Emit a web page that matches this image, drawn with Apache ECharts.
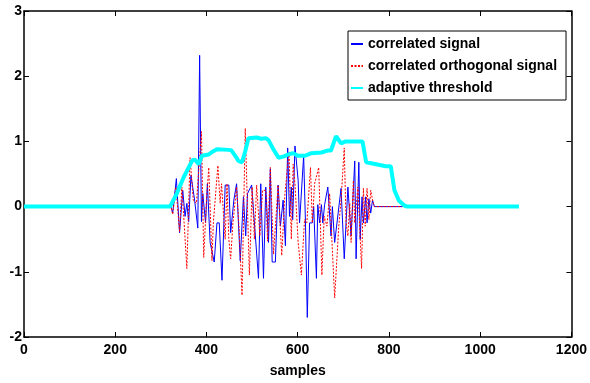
<!DOCTYPE html>
<html>
<head>
<meta charset="utf-8">
<script src="https://cdn.jsdelivr.net/npm/echarts@6/dist/echarts.min.js"></script>
<style>
  html, body { margin: 0; padding: 0; background: #fff; }
  #chart { width: 590px; height: 383px; }
</style>
</head>
<body>
<div id="chart"></div>
<script>
// sample positions and values
const sigX = [310, 322, 326, 334, 341, 348, 353, 357, 361, 366, 374, 381, 385, 389, 392, 398, 402, 408, 412, 417, 423, 428, 434, 441, 449, 453, 460, 466, 474, 481, 486, 490, 499, 503, 514, 519, 525, 530, 536, 540, 544, 551, 557, 562, 568, 573, 578, 582, 586, 589, 594, 601, 604, 608, 613, 617, 621, 626, 632, 635, 641, 644, 648, 652, 655, 659, 666, 673, 676, 681, 685, 695, 702, 710, 717, 725, 728, 734, 737, 741, 744, 749, 752, 756, 760, 764, 768, 830];
const sigY = [0, 0, -0.1, 0.43, -0.4, 0.25, -0.15, 0.05, -0.23, 0.48, 0.1, -0.33, 2.32, -0.23, 0.2, -0.25, 0.35, -0.55, -0.55, -0.85, -0.25, -0.25, -1.13, 0.33, 0.33, -0.4, 0.1, 0.35, -0.83, 0.15, -0.45, 0.2, 0.33, 0.33, -1.1, 0.35, -1.1, 0.3, -0.55, 0.58, -0.85, -0.85, 0.33, -0.3, 0.1, -0.6, 0.9, -0.15, 0.3, -0.2, 0.93, 0.4, -0.25, -0.25, 0.78, -0.25, -1.7, -0.25, -0.25, 0, -1.1, 0.03, -0.25, 0.03, -0.25, 0.03, 0.3, -0.45, 0, -0.55, -0.55, 0.28, -0.8, 0.3, -0.45, 0.7, -0.8, 0.68, -0.5, 0.15, -0.25, 0.15, -0.25, 0.12, -0.1, 0.1, 0, 0];

const orthX = [310, 322, 326, 333, 341, 346, 351, 357, 364, 371, 378, 389, 394, 400, 405, 412, 415, 425, 430, 433, 441, 445, 449, 453, 458, 466, 472, 478, 485, 494, 500, 505, 510, 517, 523, 530, 534, 540, 547, 557, 565, 572, 581, 586, 590, 594, 601, 608, 615, 620, 628, 632, 637, 646, 653, 658, 664, 670, 681, 690, 695, 702, 706, 710, 714, 717, 722, 725, 732, 740, 744, 748, 752, 756, 760, 764, 768, 830];
const orthY = [0, 0, -0.12, 0.3, -0.38, 0.3, -0.25, -0.95, 0.75, 0.1, 0.05, 1.15, -0.78, 0.1, 0.6, -0.83, -0.25, 0.63, 0.05, 0.35, -0.5, 0.35, -0.5, -0.8, -0.25, 0.3, -0.4, -1.36, 1.2, -1.05, 0.3, -0.5, 0.33, -0.45, 0.25, 0.25, -0.53, 0.6, -0.73, 0.33, -0.75, 0.2, 0.85, -0.5, 0.65, 0.35, -0.55, -1.05, -0.2, -0.25, 0.6, -0.25, 0.35, 0.6, -1.05, -0.15, -0.3, 0.2, -1.4, -0.3, 0.1, 0.9, -0.25, -0.45, 0.05, -0.55, 0.4, -0.25, 0.3, -0.95, 0.28, -0.3, 0.28, -0.2, 0.25, 0.1, 0, 0];

const thrX = [0, 320, 335, 350, 369, 375, 383, 390, 405, 415, 423, 449, 455, 465, 470, 478, 485, 492, 510, 520, 530, 536, 545, 558, 570, 579, 590, 600, 616, 630, 652, 665, 673, 684, 695, 705, 724, 742, 750, 764, 793, 804, 812, 822, 833, 840, 1085];
const thrY = [0, 0, 0.2, 0.45, 0.71, 0.72, 0.65, 0.78, 0.8, 0.85, 0.88, 0.87, 0.86, 0.76, 0.7, 0.68, 0.85, 1.05, 1.06, 1.04, 1.05, 1.02, 0.9, 0.75, 0.77, 0.8, 0.82, 0.78, 0.78, 0.82, 0.83, 0.86, 0.86, 1.08, 0.97, 1.0, 1.0, 1.0, 0.68, 0.66, 0.62, 0.62, 0.25, 0.09, 0.02, 0, 0];

const zip = (xs, ys) => xs.map((x, i) => [x, ys[i]]);

const chart = echarts.init(document.getElementById('chart'));
const font = 'Liberation Sans, Arial, sans-serif';
const axisBase = {
  axisLine: { show: true, onZero: false, lineStyle: { color: '#000', width: 1.5 } },
  axisTick: { show: true, inside: true, length: 5, lineStyle: { color: '#000' } },
  splitLine: { show: false }
};
const labelStyle = { fontFamily: font, fontWeight: 'bold', fontSize: 14, color: '#000' };

chart.setOption({
  animation: false,
  backgroundColor: '#fff',
  grid: { left: 24, right: 14, top: 11, bottom: 40 },
  legend: {
    orient: 'vertical',
    left: 348,
    top: 31,
    padding: [6, 9, 5, 2],
    itemGap: 8,
    itemWidth: 12,
    itemHeight: 14,
    backgroundColor: '#fff',
    borderColor: '#000',
    borderWidth: 1,
    itemStyle: { opacity: 0 },
    textStyle: labelStyle,
    data: ['correlated signal', 'correlated orthogonal signal', 'adaptive threshold']
  },
  xAxis: [
    Object.assign({}, axisBase, {
      type: 'value', min: 0, max: 1200, interval: 200, position: 'bottom',
      name: 'samples', nameLocation: 'middle', nameGap: 27,
      nameTextStyle: labelStyle,
      axisLabel: Object.assign({ margin: 6, formatter: v => String(v) }, labelStyle)
    }),
    Object.assign({}, axisBase, {
      type: 'value', min: 0, max: 1200, interval: 200, position: 'top',
      axisLabel: { show: false }
    })
  ],
  yAxis: [
    Object.assign({}, axisBase, {
      type: 'value', min: -2, max: 3, interval: 1, position: 'left',
      axisLabel: Object.assign({ margin: 2 }, labelStyle)
    }),
    Object.assign({}, axisBase, {
      type: 'value', min: -2, max: 3, interval: 1, position: 'right',
      axisLabel: { show: false }
    })
  ],
  series: [
    {
      name: 'correlated signal', type: 'line', symbol: 'none',
      data: zip(sigX, sigY),
      lineStyle: { color: '#0000ff', width: 1 }, itemStyle: { color: '#0000ff' }
    },
    {
      name: 'correlated orthogonal signal', type: 'line', symbol: 'none',
      data: zip(orthX, orthY),
      lineStyle: { color: '#ff0000', width: 1, type: [2, 1.5] }, itemStyle: { color: '#ff0000' }
    },
    {
      name: 'adaptive threshold', type: 'line', symbol: 'none',
      data: zip(thrX, thrY),
      lineStyle: { color: '#00ffff', width: 4 }, itemStyle: { color: '#00ffff' }
    }
  ]
});
</script>
</body>
</html>
